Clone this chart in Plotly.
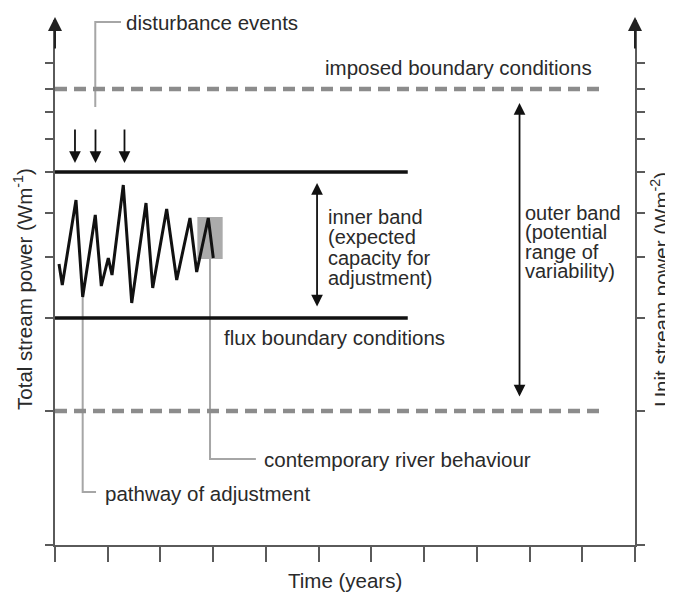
import plotly.graph_objects as go

# ---------------- data (conceptual units) ----------------
time_ticks = list(range(12))
power_ticks = [0, 13.4, 22.7, 28.8, 33.2, 37.3, 40.6, 43.3, 45.6, 48.2]

imposed_upper = 45.6
imposed_lower = 13.4
imposed_end = 10.41
flux_upper = 37.3
flux_lower = 22.7
flux_end = 6.69

path_x = [0.076, 0.138, 0.398, 0.525, 0.764, 0.878, 1.011, 1.081, 1.295, 1.455,
          1.726, 1.853, 2.118, 2.308, 2.560, 2.687, 2.907, 3.002]
path_y = [28.1, 26.0, 34.5, 24.8, 33.0, 25.9, 28.7, 27.0, 36.0, 24.2,
          34.2, 25.7, 33.6, 26.5, 32.7, 27.3, 32.7, 28.7]

box_x = [2.70, 3.18]
box_y = [28.6, 32.8]

disturbance_x = [0.379, 0.768, 1.318]
disturbance_top = 41.7
disturbance_bottom = 38.2

inner_x = 4.97
inner_y = [23.7, 36.2]
outer_x = 8.81
outer_y = [14.7, 44.2]

lead_dist_x = [0.764, 0.764, 1.252]
lead_dist_y = [43.8, 52.3, 52.3]
lead_path_x = [0.525, 0.525, 0.778]
lead_path_y = [24.8, 5.3, 5.3]
lead_cont_x = [2.94, 2.94, 3.81]
lead_cont_y = [28.6, 8.6, 8.6]

inner_lines = ["inner band", "(expected", "capacity for", "adjustment)"]
inner_line_y = [32.83, 30.83, 28.73, 26.67]
inner_text_x = 5.14
outer_lines = ["outer band", "(potential", "range of", "variability)"]
outer_line_y = [33.2, 31.3, 29.35, 27.4]
outer_text_x = 8.876

X_MAX = 11
Y_MAX = 52.5

FONT = "Liberation Sans, Arial, sans-serif"
FS = 20.5
FS_BLOCK = 20
TXT = "#2a2a2a"
AX = "#5a5a5a"
DASH = "#8c8c8c"
LEAD = "#a6a6a6"

fig = go.Figure()

# gray box (contemporary behaviour)
fig.add_shape(type="rect", x0=box_x[0], x1=box_x[1], y0=box_y[0], y1=box_y[1],
              xref="x", yref="y", fillcolor="#ababab", line_width=0, layer="below")

def line(xs, ys, color, width, dash=None):
    fig.add_trace(go.Scatter(x=xs, y=ys, mode="lines",
                             line=dict(color=color, width=width, dash=dash),
                             hoverinfo="skip", showlegend=False, cliponaxis=False))

# leader lines
line(lead_dist_x, lead_dist_y, LEAD, 2)
line(lead_path_x, lead_path_y, LEAD, 2)
line(lead_cont_x, lead_cont_y, LEAD, 2)

# imposed boundaries (dashed)
line([0, imposed_end], [imposed_upper, imposed_upper], DASH, 4.5, "12px,7px")
line([0, imposed_end], [imposed_lower, imposed_lower], DASH, 4.5, "12px,7px")
# flux boundaries
line([0, flux_end], [flux_upper, flux_upper], "#111111", 3.5)
line([0, flux_end], [flux_lower, flux_lower], "#111111", 3.5)

# pathway of adjustment
fig.add_trace(go.Scatter(x=path_x, y=path_y, mode="lines",
                         line=dict(color="#111111", width=3, shape="linear"),
                         hoverinfo="skip", showlegend=False))

annotations = []

# disturbance arrows
for dx in disturbance_x:
    annotations.append(dict(x=dx, y=disturbance_bottom, ax=dx, ay=disturbance_top,
                            xref="x", yref="y", axref="x", ayref="y", text="",
                            showarrow=True, arrowhead=2, arrowsize=1.3,
                            arrowwidth=1.8, arrowcolor="#111111"))

# double arrows
for bx, by in [(inner_x, inner_y), (outer_x, outer_y)]:
    annotations.append(dict(x=bx, y=by[1], ax=bx, ay=by[0],
                            xref="x", yref="y", axref="x", ayref="y", text="",
                            showarrow=True, arrowhead=2, arrowsize=1.3,
                            arrowwidth=1.8, arrowcolor="#111111",
                            arrowside="end+start"))

# axis arrows
for axx in [0, X_MAX]:
    annotations.append(dict(x=axx, y=Y_MAX + 0.3, ax=axx, ay=Y_MAX - 3,
                            xref="x", yref="y", axref="x", ayref="y", text="",
                            showarrow=True, arrowhead=2, arrowsize=1.4,
                            arrowwidth=2, arrowcolor="#222222"))

def label(text, x, y, anchor="left", size=FS, **kw):
    d = dict(text=text, x=x, y=y, xref="x", yref="y", xanchor=anchor,
             yanchor="middle", showarrow=False,
             font=dict(family=FONT, size=size, color=TXT))
    d.update(kw)
    annotations.append(d)

label("imposed boundary conditions", 5.083, 47.8)
label("disturbance events", 1.30, 52.3)
label("flux boundary conditions", 3.167, 20.8)
label("contemporary river behaviour", 3.926, 8.6)
label("pathway of adjustment", 0.91, 5.2)
for t, yy in zip(inner_lines, inner_line_y):
    label(t, inner_text_x, yy, size=FS_BLOCK)
for t, yy in zip(outer_lines, outer_line_y):
    label(t, outer_text_x, yy, size=FS_BLOCK)

# axis titles
annotations.append(dict(text="Time (years)", x=0.5, y=-0.067, xref="paper", yref="paper",
                        xanchor="center", yanchor="middle", showarrow=False,
                        font=dict(family=FONT, size=FS, color=TXT)))
annotations.append(dict(text="Total stream power (Wm<sup>-1</sup>)", x=-0.055, y=0.488,
                        xref="paper", yref="paper", xanchor="center", yanchor="middle",
                        textangle=-90, showarrow=False,
                        font=dict(family=FONT, size=FS, color=TXT)))
annotations.append(dict(text="Unit stream power (Wm<sup>-2</sup>)", x=1.043, y=0.488,
                        xref="paper", yref="paper", xanchor="center", yanchor="middle",
                        textangle=-90, showarrow=False,
                        font=dict(family=FONT, size=FS, color=TXT)))

fig.update_layout(
    width=665, height=586,
    margin=dict(l=47, r=38, t=12, b=49),
    paper_bgcolor="white", plot_bgcolor="white",
    showlegend=False,
    annotations=annotations,
    xaxis=dict(range=[0, X_MAX], showgrid=False, zeroline=False,
               showline=True, linecolor=AX, linewidth=2,
               ticks="outside", tickvals=time_ticks, ticklen=15, tickwidth=2,
               tickcolor=AX, showticklabels=False, fixedrange=True),
    yaxis=dict(range=[0, Y_MAX], showgrid=False, zeroline=False,
               showline=True, linecolor=AX, linewidth=2, mirror="ticks",
               ticks="outside", tickvals=power_ticks, ticklen=8, tickwidth=2,
               tickcolor=AX, showticklabels=False, fixedrange=True),
)

fig.write_html("out.html")
